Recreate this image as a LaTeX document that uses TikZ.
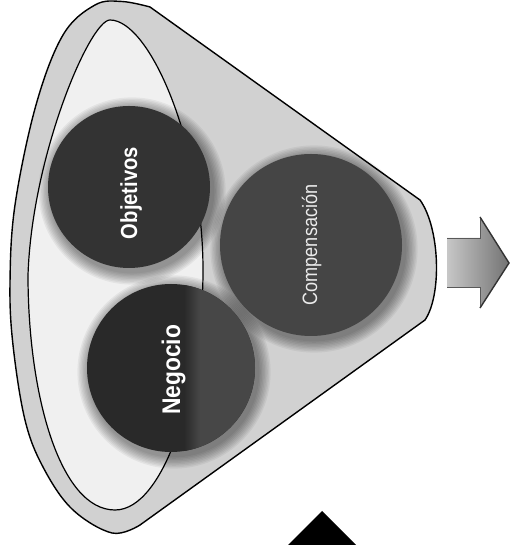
\documentclass[tikz,border=0pt]{standalone}
\usepackage{fontspec}
\setmainfont{Liberation Sans}
\usetikzlibrary{calc}
\begin{document}
\begin{tikzpicture}[x=1pt,y=1pt,
  bubble/.style={circle, inner sep=0pt, draw=none},
  lbl/.style={text=white, rotate=90, anchor=base, inner sep=0pt},
  funnel/.style={line width=1.4pt, draw=black, fill=black!18},
  egg/.style={line width=1.2pt, draw=black, fill=black!6},
  shadowring/.style={fill=black, opacity=0.05},
]
\useasboundingbox (0,0) rectangle (510,545);
\clip (0,0) rectangle (510,545);
% outer funnel
\path[funnel] (150,538) -- (420,345) .. controls (440,317) and (442,250) .. (425,225) -- (140,20)
  -- plot[smooth, tension=0.6] coordinates {(140,20) (112,12) (72,36) (43,78) (25,125) (13,200) (10,262) (15,340) (36,440) (63,510) (95,540) (122,543.5) (150,538)} -- cycle;
% inner egg
\path[egg] (110,525) .. controls (150,525) and (203,400) .. (203,275)
  .. controls (203,160) and (165,35) .. (115,35)
  .. controls (60,35) and (28,150) .. (28,270)
  .. controls (32,390) and (90,525) .. (110,525) -- cycle;
% soft shadows
\foreach \cx/\cy/\r in {129/358/81, 171/177/84, 311/300/91}{
  \foreach \k in {1,...,9}{
    \fill[shadowring] (\cx+3,\cy-4) circle ({\r+\k*1.4});
  }
}
% circles
\node[bubble, minimum size=162pt, fill=black!80] (obj) at (129,358) {};
\node[bubble, minimum size=168pt, fill=black!84] (neg) at (171,177) {};
\begin{scope}
  \clip (171,177) circle (84);
  \shade[left color=black!84, right color=black!72] (184,80) rectangle (200,270);
  \fill[black!72] (199.5,80) rectangle (260,270);
\end{scope}
\node[bubble, minimum size=182pt, fill=black!73] (comp) at (311,300) {};
% labels
\node[lbl, font=\bfseries\fontsize{20.2}{24}\selectfont] (tobj) at (137,352) {\scalebox{1}[1.15]{Objetivos}};
\node[lbl, font=\bfseries\fontsize{22.8}{26}\selectfont] (tneg) at (180,175) {\scalebox{1}[1.12]{Negocio}};
\node[lbl, text=black!8, font=\fontsize{18.1}{22}\selectfont] (tcomp) at (317,300) {\scalebox{1}[1.15]{Compensación}};
% output arrow
\shade[left color=black!22, right color=black!55] (447,307) -- (480,307) -- (480,328) -- (509,282) -- (480,237) -- (480,258) -- (447,258) -- cycle;
\draw[black!65, line width=0.8pt] (447,307) -- (480,307) -- (480,328);
\draw[black!65, line width=0.8pt] (447,258) -- (480,258) -- (480,237);
\draw[black!80, line width=1.4pt] (480,328) -- (509,282) -- (480,237);
% black triangle at bottom
\fill[black] (322,34) -- (286,-2) -- (358,-2) -- cycle;
\end{tikzpicture}
\end{document}
